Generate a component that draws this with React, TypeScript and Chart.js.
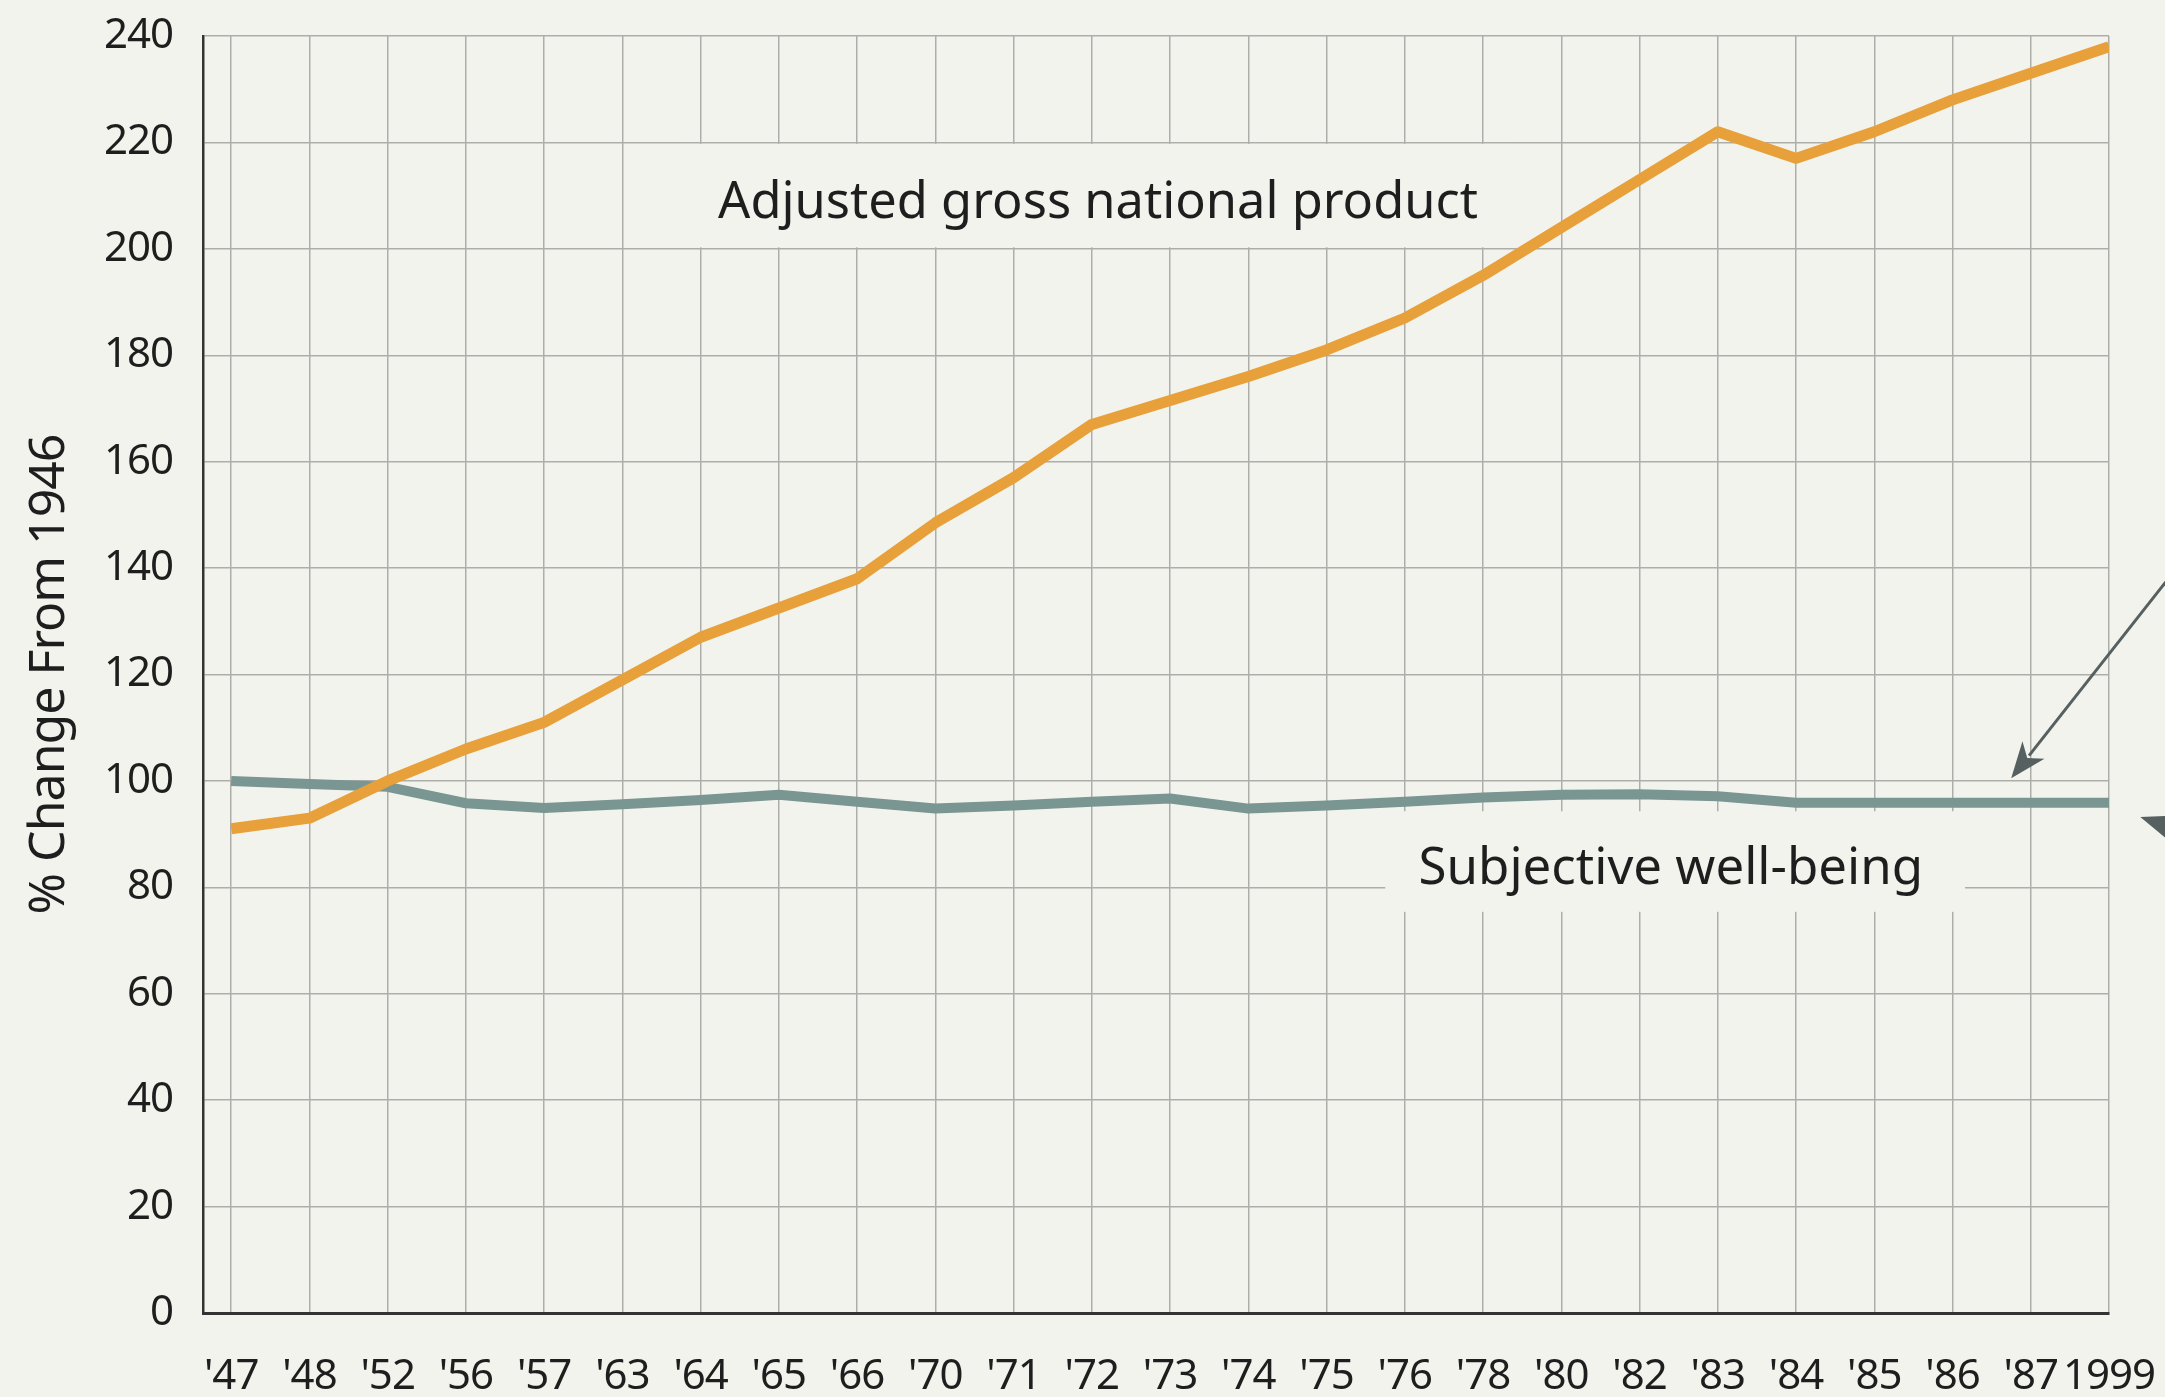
import React, { useEffect, useRef } from "react";
import { Chart, registerables } from "chart.js";

Chart.register(...registerables);

// ---- Data ----
const yearLabels = [
  "'47", "'48", "'52", "'56", "'57", "'63", "'64", "'65", "'66", "'70",
  "'71", "'72", "'73", "'74", "'75", "'76", "'78", "'80", "'82", "'83",
  "'84", "'85", "'86", "'87", "1999",
];
const gnpValues = [
  91, 93, 100, 106, 111, 119, 127, 132.5, 138, 148.5,
  157, 167, 171.5, 176, 181, 187, 195, 204, 213, 222,
  217, 222, 228, 233, 238,
];
const wellBeingValues = [
  100, 99.4, 98.9, 95.8, 94.9, 95.6, 96.4, 97.4, 96.1, 94.8,
  95.4, 96.1, 96.7, 94.8, 95.4, 96.1, 96.9, 97.4, 97.5, 97.1,
  95.9, 95.9, 95.9, 95.9, 95.9,
];
const yAxisMin = 0;
const yAxisMax = 240;
const yAxisStep = 20;
const yAxisTitle = "% Change From 1946";
const gnpLabel = "Adjusted gross national product";
const wellBeingLabel = "Subjective well-being";

// ---- Styles ----
const BG = "#f3f3ee";
const GRID = "#adada9";
const AXIS = "#333333";
const TEXT = "#1e1e1e";
const ORANGE = "#E7A03A";
const SLATE = "#7A9692";
const ARROW = "#566060";
const FONT = "'Noto Sans', sans-serif";

const annotationPlugin = {
  id: "annotations",
  beforeDraw(chart: any) {
    const { ctx, width, height } = chart;
    ctx.save();
    ctx.fillStyle = BG;
    ctx.fillRect(0, 0, width, height);
    ctx.restore();
    // slightly tighter tick/title lettering, closer to the reference face
    if ("letterSpacing" in ctx) (ctx as any).letterSpacing = "-1px";
  },
  beforeDatasetsDraw(chart: any) {
    const { ctx } = chart;
    const xs = chart.scales.x;
    const ys = chart.scales.y;
    ctx.save();
    if ("letterSpacing" in ctx) (ctx as any).letterSpacing = "0px";
    ctx.fillStyle = BG;
    // box behind GNP label
    {
      const x1 = xs.getPixelForValue(5.72);
      const x2 = xs.getPixelForValue(16.45);
      const yT = ys.getPixelForValue(220) + 1.5;
      const yB = ys.getPixelForValue(200) - 1.5;
      ctx.fillRect(x1, yT, x2 - x1, yB - yT);
    }
    // box behind well-being label
    {
      const x1 = xs.getPixelForValue(14.75);
      const x2 = xs.getPixelForValue(22.16);
      const yT = ys.getPixelForValue(94.3);
      const yB = ys.getPixelForValue(75.4);
      ctx.fillRect(x1, yT, x2 - x1, yB - yT);
    }
    ctx.fillStyle = TEXT;
    ctx.font = `51px ${FONT}`;
    ctx.textAlign = "center";
    ctx.textBaseline = "middle";
    ctx.fillText(gnpLabel, xs.getPixelForValue(11.08), ys.getPixelForValue(208.6), 760);
    ctx.fillText(wellBeingLabel, xs.getPixelForValue(18.4), ys.getPixelForValue(83.3), 510);
    ctx.restore();
  },
  afterDraw(chart: any) {
    const { ctx } = chart;
    const xs = chart.scales.x;
    const ys = chart.scales.y;
    const drawArrow = (tx: number, ty: number, dx: number, dy: number, headLen: number, headW: number) => {
      const len = Math.hypot(dx, dy);
      const ux = dx / len;
      const uy = dy / len;
      ctx.save();
      ctx.strokeStyle = ARROW;
      ctx.fillStyle = ARROW;
      ctx.lineWidth = 3;
      ctx.beginPath();
      ctx.moveTo(tx + dx, ty + dy);
      ctx.lineTo(tx + ux * headLen * 0.8, ty + uy * headLen * 0.8);
      ctx.stroke();
      const bx = tx + ux * headLen;
      const by = ty + uy * headLen;
      const px = -uy;
      const py = ux;
      ctx.beginPath();
      ctx.moveTo(tx, ty);
      ctx.lineTo(bx + px * headW / 2, by + py * headW / 2);
      ctx.lineTo(tx + ux * headLen * 0.72, ty + uy * headLen * 0.72);
      ctx.lineTo(bx - px * headW / 2, by - py * headW / 2);
      ctx.closePath();
      ctx.fill();
      ctx.restore();
    };
    drawArrow(xs.getPixelForValue(22.75), ys.getPixelForValue(100.5), 200, -254, 36, 28);
    drawArrow(xs.getPixelForValue(24.4), ys.getPixelForValue(93.2), 120, 40, 36, 28);
  },
};

export default function App() {
  const canvasRef = useRef<HTMLCanvasElement | null>(null);

  useEffect(() => {
    document.body.style.margin = "0";
    document.body.style.background = BG;
    const canvas = canvasRef.current;
    if (!canvas) return;

    const tickFont = { family: FONT, size: 42 };

    const chart = new Chart(canvas, {
      type: "line",
      data: {
        datasets: [
          {
            label: gnpLabel,
            data: gnpValues.map((y, i) => ({ x: i, y })),
            borderColor: ORANGE,
            borderWidth: 11,
            pointRadius: 0,
            tension: 0,
            borderJoinStyle: "round",
            fill: false,
          },
          {
            label: wellBeingLabel,
            data: wellBeingValues.map((y, i) => ({ x: i, y })),
            borderColor: SLATE,
            borderWidth: 10,
            pointRadius: 0,
            tension: 0,
            borderJoinStyle: "round",
            fill: false,
          },
        ],
      },
      options: {
        responsive: false,
        animation: false,
        events: [],
        layout: { padding: { left: 0, top: 36, right: 56, bottom: 0 } },
        plugins: {
          legend: { display: false },
          tooltip: { enabled: false },
          title: { display: false },
        },
        scales: {
          x: {
            type: "linear",
            min: -0.36,
            max: yearLabels.length - 1,
            afterBuildTicks: (scale: any) => {
              scale.ticks = yearLabels.map((_, i) => ({ value: i }));
            },
            afterFit: (scale: any) => {
              scale.height = 84;
              scale.paddingLeft = 0;
              scale.paddingRight = 0;
            },
            grid: { color: GRID, lineWidth: 1.5, drawTicks: false },
            border: { color: AXIS, width: 3 },
            ticks: {
              autoSkip: false,
              maxRotation: 0,
              minRotation: 0,
              padding: 39,
              color: TEXT,
              font: tickFont,
              callback: (v: any) => yearLabels[Math.round(Number(v))] ?? "",
            },
          },
          y: {
            min: yAxisMin,
            max: yAxisMax,
            afterFit: (scale: any) => {
              scale.width = 203;
              scale.paddingTop = 0;
              scale.paddingBottom = 0;
            },
            grid: { color: GRID, lineWidth: 1.5, drawTicks: false },
            border: { color: AXIS, width: 2.5 },
            ticks: {
              stepSize: yAxisStep,
              padding: 30,
              color: TEXT,
              font: tickFont,
            },
            title: {
              display: true,
              text: yAxisTitle,
              color: TEXT,
              font: { family: FONT, size: 50 },
              padding: { top: 20, bottom: 0 },
            },
          },
        },
      },
      plugins: [annotationPlugin],
    } as any);

    return () => chart.destroy();
  }, []);

  return (
    <canvas
      ref={canvasRef}
      width={2165}
      height={1397}
      style={{ display: "block", width: 2165, height: 1397 }}
    />
  );
}
